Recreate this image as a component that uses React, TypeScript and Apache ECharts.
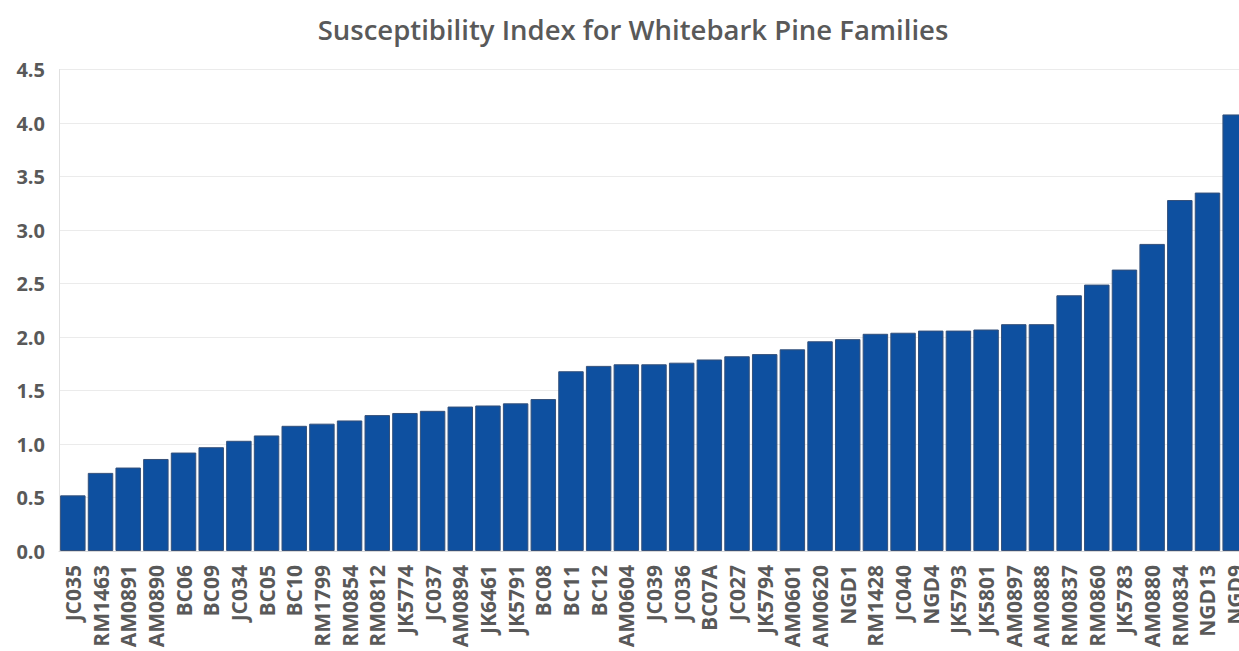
import React, { useEffect, useRef } from "react";
import * as echarts from "echarts";

const categories = [
  "JC035", "RM1463", "AM0891", "AM0890", "BC06", "BC09", "JC034", "BC05", "BC10", "RM1799",
  "RM0854", "RM0812", "JK5774", "JC037", "AM0894", "JK6461", "JK5791", "BC08", "BC11", "BC12",
  "AM0604", "JC039", "JC036", "BC07A", "JC027", "JK5794", "AM0601", "AM0620", "NGD1", "RM1428",
  "JC040", "NGD4", "JK5793", "JK5801", "AM0897", "AM0888", "RM0837", "RM0860", "JK5783", "AM0880",
  "RM0834", "NGD13", "NGD9",
];

const susceptibility = [
  0.52, 0.73, 0.78, 0.86, 0.92, 0.97, 1.03, 1.08, 1.17, 1.19,
  1.22, 1.27, 1.29, 1.31, 1.35, 1.36, 1.38, 1.42, 1.68, 1.73,
  1.745, 1.745, 1.76, 1.79, 1.82, 1.84, 1.885, 1.96, 1.98, 2.03,
  2.04, 2.06, 2.06, 2.07, 2.12, 2.12, 2.39, 2.49, 2.63, 2.87,
  3.28, 3.35, 4.08,
];

const titleText = "Susceptibility Index for Whitebark Pine Families";

export default function App() {
  const ref = useRef<HTMLDivElement>(null);
  useEffect(() => {
    if (!ref.current) return;
    const chart = echarts.init(ref.current, undefined, { renderer: "svg" });
    chart.setOption({
      animation: false,
      backgroundColor: "#ffffff",
      title: {
        text: titleText,
        left: 628,
        top: 10,
        textAlign: "center",
        textStyle: {
          fontFamily: "Open Sans",
          fontSize: 27.5,
          fontWeight: 600,
          color: "#595959",
        },
      },
      grid: { left: 59, right: 0, top: 69.5, bottom: 100, containLabel: false },
      xAxis: {
        type: "category",
        data: categories,
        axisLine: { show: true, lineStyle: { color: "#d9d9d9" } },
        axisTick: { show: false },
        axisLabel: {
          rotate: 90,
          interval: 0,
          margin: 14,
          fontFamily: "Open Sans",
          fontWeight: "bold",
          fontSize: 21,
          color: "#595959",
        },
      },
      yAxis: {
        type: "value",
        min: 0,
        max: 4.5,
        interval: 0.5,
        axisLine: { show: true, lineStyle: { color: "#e0e0e0" } },
        axisTick: { show: false },
        splitLine: { lineStyle: { color: "#ebebeb", width: 1 } },
        axisLabel: {
          margin: 14,
          formatter: (v: number) => v.toFixed(1),
          fontFamily: "Open Sans",
          fontWeight: "bold",
          fontSize: 20,
          color: "#595959",
        },
      },
      series: [
        {
          type: "bar",
          data: susceptibility,
          barCategoryGap: "8%",
          itemStyle: {
            color: "#0e50a0",
            borderColor: "#34507a",
            borderWidth: 1,
          },
        },
      ],
    });
    return () => chart.dispose();
  }, []);
  return (
    <div style={{ position: "absolute", left: 0, top: 0, width: 1239, height: 651, overflow: "hidden", background: "#fff" }}>
      <div ref={ref} style={{ width: 1249, height: 651 }} />
    </div>
  );
}
